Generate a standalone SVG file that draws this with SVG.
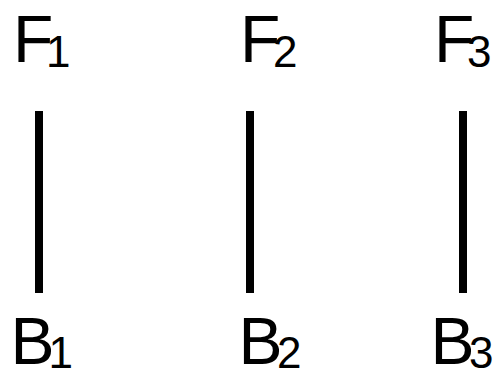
<svg xmlns="http://www.w3.org/2000/svg" width="496" height="376" viewBox="0 0 496 376">
<style>
.m{font-family:"Liberation Sans",Arial,sans-serif;font-size:66px;fill:#000}
.s{font-size:44px}
.c{stroke:#000;stroke-width:8;fill:none}
</style>
<rect width="496" height="376" fill="#fff"/>
<g id="F1"><text class="m" x="13" y="62">F<tspan class="s" x="46" y="67">1</tspan></text></g>
<g id="F2"><text class="m" x="240" y="62">F<tspan class="s" x="273" y="67">2</tspan></text></g>
<g id="F3"><text class="m" x="434" y="62">F<tspan class="s" x="467" y="67">3</tspan></text></g>
<g id="B1"><text class="m" x="10.5" y="364">B<tspan class="s" x="48.5" y="368">1</tspan></text></g>
<g id="B2"><text class="m" x="238.5" y="364">B<tspan class="s" x="277" y="368">2</tspan></text></g>
<g id="B3"><text class="m" x="430.5" y="364">B<tspan class="s" x="469" y="368">3</tspan></text></g>
<g id="connectors">
<line class="c" x1="39" y1="111" x2="39" y2="293"/>
<line class="c" x1="250" y1="111" x2="250" y2="293"/>
<line class="c" x1="463" y1="111" x2="463" y2="293"/>
</g>
</svg>
